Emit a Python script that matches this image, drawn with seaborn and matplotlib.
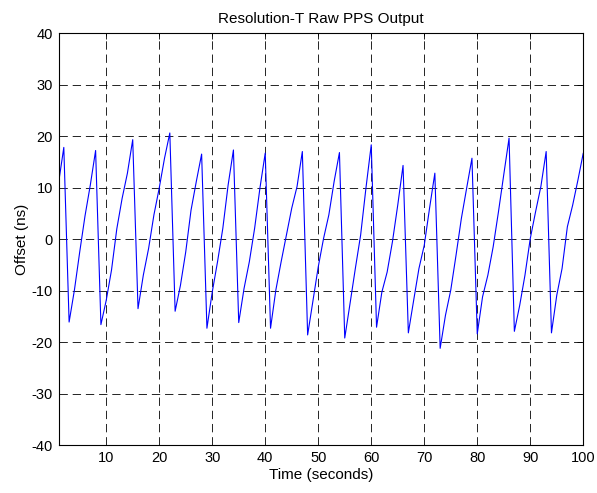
import matplotlib
matplotlib.use("Agg")
import matplotlib.pyplot as plt
import seaborn as sns
import numpy as np
import pandas as pd

# offset readings, one per second (1..100)
seconds = list(range(1, 101))
offset_ns = [
    10.8, 17.8, -16.1, -9.9, -2.5, 4.5, 10.5, 17.2, -16.6, -11.9,
    -6.0, 2.0, 7.9, 12.8, 19.3, -13.5, -7.0, -1.8, 4.7, 9.9,
    15.7, 20.6, -14.0, -9.0, -2.5, 5.6, 11.2, 16.5, -17.3, -10.3,
    -4.4, 2.1, 10.5, 17.3, -16.2, -9.6, -4.4, 2.1, 9.9, 16.7,
    -17.3, -9.9, -4.4, 0.8, 6.0, 10.2, 17.0, -18.6, -12.0, -5.4,
    0.1, 4.7, 11.2, 16.8, -19.2, -12.5, -5.7, 0.8, 9.9, 18.3,
    -17.1, -10.3, -6.4, -0.5, 6.6, 14.3, -18.2, -11.9, -5.7, -1.2,
    6.0, 12.8, -21.2, -14.8, -9.9, -3.1, 4.0, 9.9, 15.7, -18.4,
    -11.2, -7.0, -1.5, 5.3, 12.5, 19.6, -17.9, -12.9, -7.0, 0.1,
    5.3, 10.2, 17.0, -18.2, -10.9, -5.7, 2.4, 6.6, 11.5, 16.7,
]
x_ticks = list(range(10, 101, 10))
y_ticks = list(range(-40, 41, 10))

sns.set_style("white")
plt.rcParams['font.family'] = ['Liberation Sans', 'DejaVu Sans']
plt.rcParams['lines.scale_dashes'] = False
plt.rcParams['axes.unicode_minus'] = False
plt.rcParams['text.color'] = 'black'
plt.rcParams['axes.labelcolor'] = 'black'

df = pd.DataFrame({"t": seconds, "offset": offset_ns})

fig = plt.figure(figsize=(5.97, 4.93), dpi=100)
ax = fig.add_axes([0.098, 0.097, 0.879, 0.836])
sns.lineplot(data=df, x="t", y="offset", ax=ax, color="#0000ff", linewidth=0.8)

ax.set_xlim(1, 100)
ax.set_ylim(-40, 40)
ax.set_xticks(x_ticks)
ax.set_yticks(y_ticks)
ax.grid(True, color="black", linestyle=(0, (6, 3.5)), linewidth=0.6)
ax.tick_params(direction="in", length=4, width=0.6, top=True, right=True,
               labelsize=10.5, colors="black", pad=4)
for s in ax.spines.values():
    s.set_visible(True)
    s.set_color("black")
    s.set_linewidth(0.8)

ax.set_title("Resolution-T Raw PPS Output", fontsize=11, pad=7, color="black")
ax.set_xlabel("Time (seconds)", fontsize=11, labelpad=2, color="black")
ax.set_ylabel("Offset (ns)", fontsize=11, labelpad=2, color="black")

fig.savefig("out.png", dpi=100, facecolor="white")
